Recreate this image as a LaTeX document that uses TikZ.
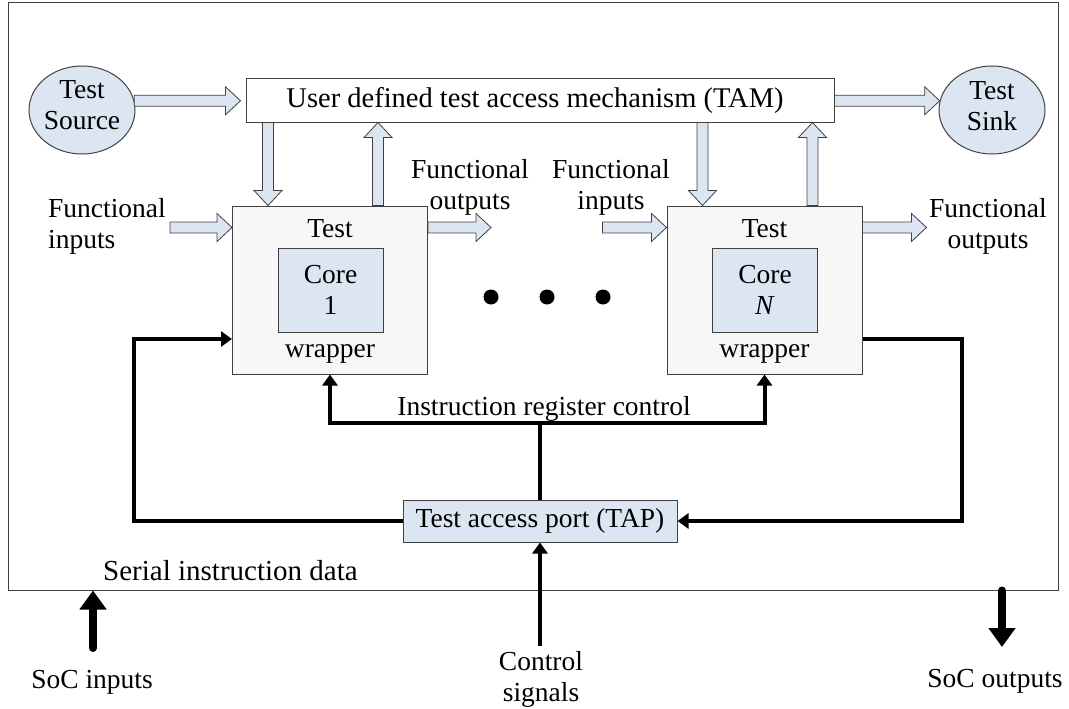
\documentclass[tikz,border=0pt]{standalone}
\usepackage{fontspec}
\setmainfont{Liberation Serif}
\usetikzlibrary{arrows.meta, shapes.geometric, calc}
\definecolor{boxblue}{HTML}{DCE6F2}
\definecolor{boxgrey}{HTML}{F7F7F7}
\definecolor{edge}{HTML}{404040}
\tikzstyle{blob}=[ellipse, draw=edge, fill=boxblue, line width=1pt, minimum width=106pt, minimum height=88pt, inner sep=0pt, align=center]
\tikzstyle{block}=[rectangle, draw=edge, line width=1pt, inner sep=0pt]
\tikzstyle{wrapper}=[block, fill=boxgrey, minimum width=195pt, minimum height=168pt]
\tikzstyle{core}=[block, fill=boxblue, minimum width=105pt, minimum height=84pt, align=center]
\tikzstyle{lbl}=[inner sep=0pt, align=center]
\tikzstyle{dot}=[circle, fill, inner sep=0pt, minimum size=15pt]
\tikzstyle{wire}=[line width=4pt]
\tikzstyle{wirearrow}=[wire, -{Triangle[length=11pt,width=15pt]}]
\tikzstyle{socarrow}=[line width=8pt, line cap=round, -{Triangle[length=19pt,width=26pt]}]
\tikzstyle{hollow}=[draw=edge, fill=boxblue, line width=0.8pt, to path={let \p1=(\tikztostart), \p2=(\tikztotarget), \n1={veclen(\x2-\x1,\y2-\y1)}, \n2={(\x2-\x1)/\n1}, \n3={(\y2-\y1)/\n1} in ({\x1+5.5*(\n3)},{\y1-5.5*(\n2)}) -- ({\x1+(\n1-15)*(\n2)+5.5*(\n3)},{\y1+(\n1-15)*(\n3)-5.5*(\n2)}) -- ({\x1+(\n1-15)*(\n2)+14*(\n3)},{\y1+(\n1-15)*(\n3)-14*(\n2)}) -- (\x2,\y2) -- ({\x1+(\n1-15)*(\n2)-14*(\n3)},{\y1+(\n1-15)*(\n3)+14*(\n2)}) -- ({\x1+(\n1-15)*(\n2)-5.5*(\n3)},{\y1+(\n1-15)*(\n3)+5.5*(\n2)}) -- ({\x1-5.5*(\n3)},{\y1+5.5*(\n2)}) -- cycle}]

\begin{document}
\begin{tikzpicture}[x=1pt, y=-1pt, every node/.style={font=\fontsize{27.5}{31}\selectfont}]
\useasboundingbox (0,0) rectangle (1069,709);

\node[block, minimum width=1050pt, minimum height=587pt] (chip) at (533,296.5) {};
\node[blob] (src) at (82,110) {};
\node[lbl] (srctext) at (82,105) {Test\\Source};
\node[blob] (sink) at (992,110) {};
\node[lbl] (sinktext) at (992,106) {Test\\Sink};
\node[block, fill=white, minimum width=588pt, minimum height=43pt] (tam) at (540,100.5) {};
\node[lbl, font=\fontsize{28.5}{31}\selectfont] (tamtext) at (535,100.5) {User defined test access mechanism (TAM)};
\node[wrapper] (w1) at (330,290) {};
\node[wrapper] (wN) at (764.5,290) {};
\node[core] (c1) at (330.5,290) {Core\\1};
\node[core] (cN) at (765,290) {Core\\\textit{N}};
\node[anchor=base, inner sep=0pt] (w1top) at ([yshift=-32pt]w1.north) {Test};
\node[anchor=base, inner sep=0pt] (w1bot) at ([yshift=17pt]w1.south) {wrapper};
\node[anchor=base, inner sep=0pt] (wNtop) at ([yshift=-32pt]wN.north) {Test};
\node[anchor=base, inner sep=0pt] (wNbot) at ([yshift=17pt]wN.south) {wrapper};
\node[block, fill=boxblue, minimum width=274pt, minimum height=42pt] (tap) at (540,521) {Test access port (TAP)};
\foreach \i/\x in {1/491,2/547,3/603}
  \node[dot] (dot\i) at (\x,297) {};

\node[lbl, align=left, anchor=west] (fin1) at (48,226) {Functional\\inputs};
\node[lbl] (fout1) at (470,187) {Functional\\outputs};
\node[lbl] (fin2) at (611,187) {Functional\\inputs};
\node[lbl] (fout2) at (988,226) {Functional\\outputs};
\node[lbl, anchor=base] (irc) at (544,415) {Instruction register control};
\node[lbl, anchor=base west, font=\fontsize{29}{31}\selectfont] (sid) at (103,580) {Serial instruction data};
\node[lbl] (ctltext) at (541,679) {Control\\signals};
\node[lbl, anchor=base] (inlbl) at (92,688) {SoC inputs};
\node[lbl, anchor=base] (outlbl) at (995,687) {SoC outputs};

\coordinate (d1) at ([xshift=36pt]w1.north west);
\coordinate (u1) at ([xshift=-50pt]w1.north east);
\coordinate (d2) at ([xshift=36pt]wN.north west);
\coordinate (u2) at ([xshift=-50pt]wN.north east);
\coordinate (fi1) at ([yshift=-22pt]w1.north west);
\coordinate (fo1) at ([yshift=-22pt]w1.north east);
\coordinate (fi2) at ([yshift=-22pt]wN.north west);
\coordinate (fo2) at ([yshift=-22pt]wN.north east);
\draw[hollow] (src.10) to ([xshift=-5pt]src.10 -| tam.west);
\draw[hollow] (tam.east |- sink.170) to (sink.170);
\draw[hollow] (d1 |- tam.south) to (d1);
\draw[hollow] (u1) to (u1 |- tam.south);
\draw[hollow] (d2 |- tam.south) to (d2);
\draw[hollow] (u2) to (u2 |- tam.south);
\draw[hollow] ([xshift=-62pt]fi1) to (fi1);
\draw[hollow] (fo1) to ([xshift=63pt]fo1);
\draw[hollow] ([xshift=-64pt]fi2) to (fi2);
\draw[hollow] (fo2) to ([xshift=64pt]fo2);

\coordinate (sin) at ([yshift=-49pt]w1.west);
\coordinate (sout) at ([yshift=-49pt]wN.east);
\coordinate (ir) at ([yshift=77pt]tap.north);
\coordinate (ctl) at ([yshift=-103pt]tap.south);
\draw[wirearrow] (tap.west) -| ([xshift=-98pt]sin) -- (sin);
\draw[wirearrow] (sout) -- ([xshift=99pt]sout) |- (tap.east);
\draw[wire] (tap.north) -- (ir);
\draw[wirearrow] (ir) -| (w1.south);
\draw[wirearrow] (ir) -| (wN.south);
\draw[wirearrow] (ctl) -- (tap.south);

\coordinate (socin) at (93,648);
\coordinate (socout) at (1002,647);
\draw[socarrow] (socin) -- (socin |- chip.south);
\draw[socarrow] (socout |- chip.south) -- (socout);
\end{tikzpicture}
\end{document}
